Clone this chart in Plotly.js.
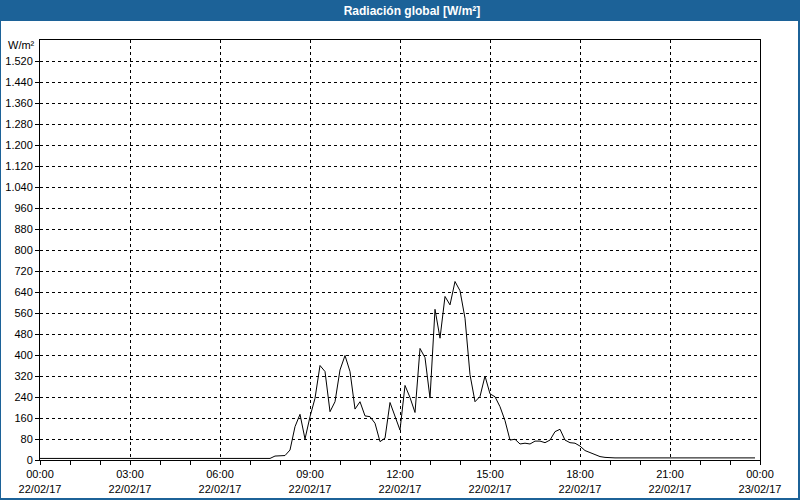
<!DOCTYPE html>
<html><head><meta charset="utf-8">
<script src="https://cdn.plot.ly/plotly-3.0.1.min.js"></script>
<style>html,body{margin:0;padding:0;background:#fff;overflow:hidden}#chart{width:800px;height:500px}</style>
</head><body><div id="chart"></div>
<script>
// Global radiation, 22/02/17, one reading every 10 minutes starting 00:00
const startDay = '2017-02-22';
const stepMinutes = 10;
const radiation = [
  6,6,6,6,6,6,6,6,6,6,6,6,            // 00:00 - 01:50
  6,6,6,6,6,6,6,6,6,6,6,6,            // 02:00 - 03:50
  6,6,6,6,6,6,6,6,6,6,6,6,            // 04:00 - 05:50
  6,6,6,6,6,6,6,6,6,6,6,15,           // 06:00 - 07:50
  16,17,38,127,174,80,165,235,360,337,184,222,      // 08:00 - 09:50
  343,398,337,194,222,168,165,140,70,83,219,165,    // 10:00 - 11:50
  114,284,238,181,425,390,236,574,464,623,591,680,  // 12:00 - 13:50
  645,540,325,222,242,320,252,241,203,150,76,79,    // 14:00 - 15:50
  61,64,61,72,72,66,76,108,117,76,66,64,            // 16:00 - 17:50
  53,36,28,22,13,10,8,8,8,8,8,8,                    // 18:00 - 19:50
  8,8,8,8,8,8,8,8,8,8,8,8,            // 20:00 - 21:50
  8,8,8,8,8,8,8,8,8,8,8,8             // 22:00 - 23:50
];
const yTickValues = [0,80,160,240,320,400,480,560,640,720,800,880,960,1040,1120,1200,1280,1360,1440,1520];
const yTickLabels = ['0','80','160','240','320','400','480','560','640','720','800','880','960','1.040','1.120','1.200','1.280','1.360','1.440','1.520'];
const yUnit = 'W/m²';
const xTickValues = ['2017-02-22 00:00','2017-02-22 03:00','2017-02-22 06:00','2017-02-22 09:00','2017-02-22 12:00','2017-02-22 15:00','2017-02-22 18:00','2017-02-22 21:00','2017-02-23 00:00'];
const xTickLabels = ['00:00<br>22/02/17','03:00<br>22/02/17','06:00<br>22/02/17','09:00<br>22/02/17','12:00<br>22/02/17','15:00<br>22/02/17','18:00<br>22/02/17','21:00<br>22/02/17','00:00<br>23/02/17'];
const chartTitle = 'Radiación global [W/m²]';

function pad(n){ return (n < 10 ? '0' : '') + n; }
const times = radiation.map(function(_, i){
  const mins = i * stepMinutes;
  return startDay + ' ' + pad(Math.floor(mins / 60)) + ':' + pad(mins % 60);
});

// pixel -> paper helpers (plot area: x 40..760, y 40..460)
const L = 40, R = 40, T = 40, B = 40, W = 800, H = 500;
const pw = W - L - R, ph = H - T - B;
function px(X){ return (X - L) / pw; }
function py(Y){ return (H - B - Y) / ph; }
const blue = '#1c6298';
const FONT = 'Liberation Sans, Arial, sans-serif';

const trace = {
  x: times, y: radiation, type: 'scatter', mode: 'lines',
  line: {color: '#000', width: 1}, hoverinfo: 'x+y'
};

const layout = {
  width: W, height: H,
  margin: {l: L, r: R, t: T, b: B, pad: 0},
  paper_bgcolor: '#ffffff', plot_bgcolor: '#ffffff',
  showlegend: false,
  font: {family: FONT, size: 11, color: '#000'},
  title: {
    text: '<b>' + chartTitle + '</b>',
    font: {family: FONT, size: 12, color: '#ffffff'},
    xref: 'paper', x: px(412), xanchor: 'center',
    yref: 'container', y: 1 - 10.5 / H, yanchor: 'middle'
  },
  xaxis: {
    type: 'date',
    range: ['2017-02-22 00:00', '2017-02-23 00:00'],
    tickmode: 'array', tickvals: xTickValues, ticktext: xTickLabels,
    ticks: 'outside', ticklen: 4, tickcolor: '#000', tickwidth: 1,
    showline: true, linecolor: '#000', linewidth: 1, mirror: true,
    showgrid: true, gridcolor: '#000', gridwidth: 1, griddash: '3px,3px',
    minor: {dtick: 3600000, ticks: 'outside', ticklen: 4, tickcolor: '#000', showgrid: false},
    tickfont: {family: FONT, size: 11, color: '#000'},
    zeroline: false, fixedrange: true
  },
  yaxis: {
    range: [0, 1600],
    tickmode: 'array', tickvals: yTickValues, ticktext: yTickLabels,
    ticks: 'outside', ticklen: 4, tickcolor: '#000', tickwidth: 1,
    showline: true, linecolor: '#000', linewidth: 1, mirror: true,
    showgrid: true, gridcolor: '#000', gridwidth: 1, griddash: '3px,3px',
    tickfont: {family: FONT, size: 11, color: '#000'},
    zeroline: false, fixedrange: true
  },
  annotations: [
    {text: yUnit, xref: 'paper', yref: 'paper', x: px(37), y: py(45.5), xanchor: 'right', yanchor: 'middle',
     showarrow: false, font: {family: FONT, size: 11, color: '#000'}}
  ],
  shapes: [
    {type: 'rect', xref: 'paper', yref: 'paper', x0: px(0), x1: px(800), y0: py(21), y1: py(0), fillcolor: blue, line: {width: 0}, layer: 'below'},
    {type: 'rect', xref: 'paper', yref: 'paper', x0: px(0), x1: px(1), y0: py(500), y1: py(21), fillcolor: blue, line: {width: 0}, layer: 'below'},
    {type: 'rect', xref: 'paper', yref: 'paper', x0: px(798), x1: px(800), y0: py(500), y1: py(21), fillcolor: blue, line: {width: 0}, layer: 'below'},
    {type: 'rect', xref: 'paper', yref: 'paper', x0: px(0), x1: px(800), y0: py(500), y1: py(498), fillcolor: blue, line: {width: 0}, layer: 'below'}
  ]
};

Plotly.newPlot('chart', [trace], layout, {displayModeBar: false, staticPlot: true});
</script>
</body></html>
